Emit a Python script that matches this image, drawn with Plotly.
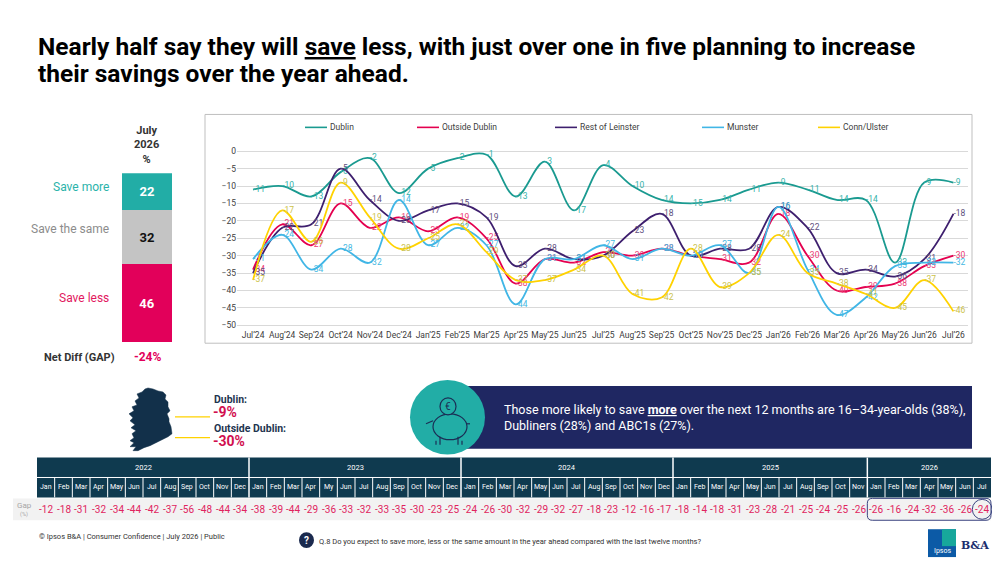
import plotly.graph_objects as go

# ---------------- DATA ----------------
months = ["Jul’24", "Aug’24", "Sep’24", "Oct’24", "Nov’24", "Dec’24", "Jan’25", "Feb’25",
          "Mar’25", "Apr’25", "May’25", "Jun’25", "Jul’25", "Aug’25", "Sep’25", "Oct’25",
          "Nov’25", "Dec’25", "Jan’26", "Feb’26", "Mar’26", "Apr’26", "May’26", "Jun’26", "Jul’26"]

dublin = [-11, -10, -13, -6, -2, -12, -5, -2, -1, -13, -3, -17, -4, -10, -14, -15, -14, -11,
          -9, -11, -14, -14, -32, -9, -9]
outside_dublin = [-34, -21, -27, -15, -22, -19, -23, -19, -25, -38, -31, -32, -29, -30, -28, -30,
                  -31, -32, -18, -30, -40, -39, -38, -33, -30]
rest_of_leinster = [-35, -22, -21, -5, -14, -20, -17, -15, -19, -33, -28, -31, -30, -23, -18, -30,
                    -28, -28, -16, -22, -35, -34, -36, -31, -18]
munster = [-31, -24, -34, -28, -32, -14, -27, -22, -27, -44, -31, -31, -27, -31, -28, -30, -27,
           -35, -16, -34, -47, -42, -33, -32, -32]
conn_ulster = [-37, -17, -26, -9, -19, -28, -25, -21, -29, -37, -37, -34, -30, -41, -42, -28, -39,
               -35, -24, -35, -38, -41, -45, -37, -46]

bar_categories = ["Save less", "Save the same", "Save more"]
bar_values = [46, 32, 22]
net_gap_text = "-24%"

region_gap_labels = ["Dublin:", "Outside Dublin:"]
region_gap_values = ["-9%", "-30%"]

table_years = ["2022", "2023", "2024", "2025", "2026"]
months_2022 = ["Jan", "Feb", "Mar", "Apr", "May", "Jun", "Jul", "Aug", "Sep", "Oct", "Nov", "Dec"]
months_2023 = ["Jan", "Feb", "Mar", "Apr", "My", "Jun", "Jul", "Aug", "Sep", "Oct", "Nov", "Dec"]
months_2024 = ["Jan", "Feb", "Mar", "Apr", "May", "Jun", "Jul", "Aug", "Sep", "Oct", "Nov", "Dec"]
months_2025 = ["Jan", "Feb", "Mar", "Apr", "May", "Jun", "Jul", "Aug", "Sep", "Oct", "Nov"]
months_2026 = ["Jan", "Feb", "Mar", "Apr", "May", "Jun", "Jul"]
gap_2022 = [-12, -18, -31, -32, -34, -44, -42, -37, -56, -48, -44, -34]
gap_2023 = [-38, -39, -44, -29, -36, -33, -32, -33, -35, -30, -23, -25]
gap_2024 = [-24, -26, -30, -32, -29, -32, -27, -18, -23, -12, -16, -17]
gap_2025 = [-18, -14, -18, -31, -23, -28, -21, -25, -24, -25, -26]
gap_2026 = [-26, -16, -24, -32, -36, -26, -24]

# ---------------- HELPERS ----------------
W, H = 1000, 563
OFF = 8  # page body margin
FONT = "Roboto"


def px(x):
    return (x - OFF) / W


def py(y):
    return 1 - (y - OFF) / H


NAVY_T = "#0F3A4F"
BOX_NAVY = "#1F2762"
TEAL = "#22ADA6"
PINK = "#E2005A"
GREY = "#C4C4C4"

fig = go.Figure()
shapes = []
ann = []

# ---------------- LINE CHART ----------------
series = [
    ("Dublin", dublin, "#1A9A90", "#36B3AA"),
    ("Outside Dublin", outside_dublin, "#E4004F", "#EC3B74"),
    ("Rest of Leinster", rest_of_leinster, "#3E1F6E", "#5E4F7E"),
    ("Munster", munster, "#41B6E6", "#45B8E2"),
    ("Conn/Ulster", conn_ulster, "#FFD200", "#CBC24A"),
]
for name, vals, col, lcol in series:
    fig.add_trace(go.Scatter(
        x=months, y=vals, mode="lines+text", name=name,
        text=[str(v) for v in vals], textposition="middle right",
        textfont=dict(size=8.5, color=lcol, family=FONT),
        line=dict(color=col, width=1.8, shape="spline", smoothing=1.0),
        cliponaxis=False, showlegend=False, hoverinfo="skip",
        xaxis="x", yaxis="y"))

# custom legend
legend_x = [305, 417, 555, 702, 818]
for (name, vals, col, lcol), lx in zip(series, legend_x):
    shapes.append(dict(type="line", xref="paper", yref="paper", x0=px(lx), x1=px(lx + 22),
                       y0=py(126), y1=py(126), line=dict(color=col, width=1.6)))
    ann.append(dict(x=px(lx + 23), y=py(126), xref="paper", yref="paper", text=name,
                    showarrow=False, xanchor="left", yanchor="middle",
                    font=dict(size=8.5, color="#404040", family=FONT)))

# chart frame
shapes.append(dict(type="rect", xref="paper", yref="paper", x0=px(205), x1=px(972),
                   y0=py(343), y1=py(113), line=dict(color="#BFBFBF", width=1), layer="below"))

# ---------------- STACKED BAR ----------------
bar_colors = [PINK, GREY, TEAL]
bar_text_colors = ["white", "#111111", "white"]
for cat, v, c, tc in zip(bar_categories, bar_values, bar_colors, bar_text_colors):
    fig.add_trace(go.Bar(
        x=["July 2026"], y=[v], name=cat, marker=dict(color=c, line=dict(width=0)),
        text=[f"<b>{v}</b>"], textposition="inside", insidetextanchor="middle",
        textfont=dict(size=13, color=tc, family=FONT), showlegend=False,
        hoverinfo="skip", xaxis="x2", yaxis="y2"))

label_colors = {"Save more": "#2BB3AA", "Save the same": "#8C8C8C", "Save less": "#E2185E"}
label_y = {"Save more": 186, "Save the same": 228, "Save less": 298}
for cat in ["Save more", "Save the same", "Save less"]:
    ann.append(dict(x=px(111), y=py(label_y[cat]), xref="paper", yref="paper", text=cat,
                    showarrow=False, xanchor="right", yanchor="middle",
                    font=dict(size=12, color=label_colors[cat], family=FONT)))

ann.append(dict(x=px(146), y=py(121), xref="paper", yref="paper",
                text="<b>July<br>2026<br>%</b>", showarrow=False, xanchor="center",
                yanchor="top", align="center",
                font=dict(size=11, color="#333333", family=FONT)))
ann.append(dict(x=px(117), y=py(357), xref="paper", yref="paper", text="<b>Net Diff (GAP)</b>",
                showarrow=False, xanchor="right", yanchor="middle",
                font=dict(size=11, color="#333333", family=FONT)))
ann.append(dict(x=px(147), y=py(357), xref="paper", yref="paper", text=f"<b>{net_gap_text}</b>",
                showarrow=False, xanchor="center", yanchor="middle",
                font=dict(size=12, color=PINK, family=FONT)))

# ---------------- MAP + REGION GAP ----------------
ireland = [(148, 388), (153, 389), (158, 391), (163, 392), (166, 395), (165, 399), (168, 402),
           (168, 407), (170, 411), (167, 414), (169, 419), (169, 422), (171, 427), (172, 434),
           (168, 437), (162, 440), (156, 443), (150, 446), (144, 448), (138, 451), (133, 451),
           (136, 447), (130, 447), (134, 443), (130, 441), (134, 438), (132, 434), (136, 431),
           (131, 428), (135, 425), (130, 421), (133, 418), (129, 414), (134, 411), (132, 407),
           (137, 405), (135, 401), (139, 398), (137, 394), (142, 392), (145, 389)]
path = "M " + " L ".join(f"{px(x):.5f},{py(y):.5f}" for x, y in ireland) + " Z"
shapes.append(dict(type="path", xref="paper", yref="paper", path=path,
                   fillcolor="#12304A", line=dict(color="#12304A", width=0.5)))
for yl in [417, 438]:
    shapes.append(dict(type="line", xref="paper", yref="paper", x0=px(175), x1=px(210),
                       y0=py(yl), y1=py(yl), line=dict(color="#FFD200", width=1.2)))
for lab, val, yl in zip(region_gap_labels, region_gap_values, [400, 429]):
    ann.append(dict(x=px(212), y=py(yl), xref="paper", yref="paper", text=f"<b>{lab}</b>",
                    showarrow=False, xanchor="left", yanchor="middle",
                    font=dict(size=10.5, color="#1E3550", family=FONT)))
    ann.append(dict(x=px(211), y=py(yl + 12), xref="paper", yref="paper", text=f"<b>{val}</b>",
                    showarrow=False, xanchor="left", yanchor="middle",
                    font=dict(size=14, color="#D10F4F", family=FONT)))

# ---------------- CALLOUT BOX ----------------
shapes.append(dict(type="rect", xref="paper", yref="paper", x0=px(460), x1=px(972),
                   y0=py(449), y1=py(386), fillcolor=BOX_NAVY, line=dict(width=0)))
shapes.append(dict(type="circle", xref="paper", yref="paper", x0=px(410), x1=px(485),
                   y0=py(455), y1=py(380), fillcolor=TEAL, line=dict(width=0)))
# piggy bank icon
icon = "#1B2E55"
shapes.append(dict(type="circle", xref="paper", yref="paper", x0=px(433), x1=px(467),
                   y0=py(440), y1=py(414), line=dict(color=icon, width=1.2)))
shapes.append(dict(type="circle", xref="paper", yref="paper", x0=px(440), x1=px(456),
                   y0=py(415), y1=py(398), fillcolor=TEAL, line=dict(color=icon, width=1.2)))
ann.append(dict(x=px(448), y=py(406.5), xref="paper", yref="paper", text="€", showarrow=False,
                xanchor="center", yanchor="middle", font=dict(size=10, color=icon, family=FONT)))
for x0, x1, y0, y1 in [(440, 440, 437, 445), (458, 458, 437, 445), (466, 470, 424, 424),
                       (426, 433, 424, 421), (436, 436, 441, 445), (462, 462, 441, 445)]:
    shapes.append(dict(type="line", xref="paper", yref="paper", x0=px(x0), x1=px(x1),
                       y0=py(y0), y1=py(y1), line=dict(color=icon, width=1.2)))
ann.append(dict(x=px(502), y=py(418), xref="paper", yref="paper",
                text="Those more likely to save <b><u>more</u></b> over the next 12 months are "
                     "16–34-year-olds (38%),<br>Dubliners (28%) and ABC1s (27%).",
                showarrow=False, xanchor="left", yanchor="middle", align="left",
                font=dict(size=12.5, color="white", family=FONT)))

# ---------------- GAP TABLE ----------------
TX0, TX1 = 37, 991
all_months = [months_2022, months_2023, months_2024, months_2025, months_2026]
all_gaps = [gap_2022, gap_2023, gap_2024, gap_2025, gap_2026]
ncols = sum(len(m) for m in all_months)
cw = (TX1 - TX0) / ncols
shapes.append(dict(type="rect", xref="paper", yref="paper", x0=px(13), x1=px(TX1),
                   y0=py(521), y1=py(499), fillcolor="#F2F2F2", line=dict(width=0)))
shapes.append(dict(type="rect", xref="paper", yref="paper", x0=px(TX0), x1=px(TX1),
                   y0=py(498), y1=py(458), fillcolor=NAVY_T, line=dict(width=0)))
shapes.append(dict(type="line", xref="paper", yref="paper", x0=px(TX0), x1=px(TX1),
                   y0=py(478), y1=py(478), line=dict(color="white", width=1)))
col = 0
for yi, (yr, mlist, glist) in enumerate(zip(table_years, all_months, all_gaps)):
    xs = TX0 + col * cw
    xe = xs + len(mlist) * cw
    if yi > 0:
        shapes.append(dict(type="line", xref="paper", yref="paper", x0=px(xs), x1=px(xs),
                           y0=py(458), y1=py(498), line=dict(color="white", width=1.5)))
    ann.append(dict(x=px((xs + xe) / 2), y=py(468), xref="paper", yref="paper", text=yr,
                    showarrow=False, xanchor="center", yanchor="middle",
                    font=dict(size=7.5, color="white", family=FONT)))
    for j, (m, g) in enumerate(zip(mlist, glist)):
        cx = xs + j * cw
        if j > 0:
            shapes.append(dict(type="line", xref="paper", yref="paper", x0=px(cx), x1=px(cx),
                               y0=py(478), y1=py(498), line=dict(color="white", width=1)))
        ann.append(dict(x=px(cx + cw / 2), y=py(488), xref="paper", yref="paper", text=m,
                        showarrow=False, xanchor="center", yanchor="middle",
                        font=dict(size=7, color="white", family=FONT)))
        ann.append(dict(x=px(cx + cw / 2), y=py(510), xref="paper", yref="paper", text=str(g),
                        showarrow=False, xanchor="center", yanchor="middle",
                        font=dict(size=10, color="#E0245E", family=FONT)))
    col += len(mlist)

ann.append(dict(x=px(24), y=py(506), xref="paper", yref="paper", text="Gap", showarrow=False,
                xanchor="center", yanchor="middle", font=dict(size=8, color="#A6A6A6", family=FONT)))
ann.append(dict(x=px(24), y=py(515), xref="paper", yref="paper", text="(%)", showarrow=False,
                xanchor="center", yanchor="middle", font=dict(size=5.5, color="#A6A6A6", family=FONT)))

# highlight of 2026 values
rx0 = TX0 + (ncols - len(months_2026)) * cw
rx1, ry0, ry1, r = TX1, 499, 521, 5


def rrect(x0, y0, x1, y1, r):
    a, b = r / W, r / H
    X0, X1, Y0, Y1 = px(x0), px(x1), py(y1), py(y0)
    return (f"M {X0 + a},{Y1} L {X1 - a},{Y1} Q {X1},{Y1} {X1},{Y1 - b} L {X1},{Y0 + b} "
            f"Q {X1},{Y0} {X1 - a},{Y0} L {X0 + a},{Y0} Q {X0},{Y0} {X0},{Y0 + b} "
            f"L {X0},{Y1 - b} Q {X0},{Y1} {X0 + a},{Y1} Z")


shapes.append(dict(type="path", xref="paper", yref="paper", path=rrect(rx0, ry0, rx1, ry1, r),
                   line=dict(color="#3B4480", width=1)))
shapes.append(dict(type="circle", xref="paper", yref="paper", x0=px(TX1 - cw - 1), x1=px(TX1 + 1),
                   y0=py(520), y1=py(500), line=dict(color="#3B4480", width=1)))

# ---------------- TITLE & FOOTER ----------------
title_lines = ["Nearly half say they will <u>save</u> less, with just over one in five planning to increase",
               "their savings over the year ahead."]
for tl, ty in zip(title_lines, [45, 72]):
    ann.append(dict(x=px(36), y=py(ty), xref="paper", yref="paper", text=f"<b>{tl}</b>",
                    showarrow=False, xanchor="left", yanchor="middle", align="left",
                    font=dict(size=24.5, color="#000000", family=FONT)))
ann.append(dict(x=px(37), y=py(537), xref="paper", yref="paper",
                text="© Ipsos B&A | Consumer Confidence | July 2026 | Public", showarrow=False,
                xanchor="left", yanchor="middle", font=dict(size=7.5, color="#333333", family=FONT)))
shapes.append(dict(type="circle", xref="paper", yref="paper", x0=px(299), x1=px(314),
                   y0=py(549), y1=py(533), fillcolor="#1B2A4E", line=dict(width=0)))
ann.append(dict(x=px(306.5), y=py(541), xref="paper", yref="paper", text="<b>?</b>", showarrow=False,
                xanchor="center", yanchor="middle", font=dict(size=10, color="white", family=FONT)))
ann.append(dict(x=px(317), y=py(542), xref="paper", yref="paper",
                text="Q.8 Do you expect to save more, less or the same amount in the year ahead compared with the last twelve months?",
                showarrow=False, xanchor="left", yanchor="middle",
                font=dict(size=7.5, color="#333333", family=FONT)))
# logo
shapes.append(dict(type="rect", xref="paper", yref="paper", x0=px(928), x1=px(956),
                   y0=py(558), y1=py(530), fillcolor="#0C5AA6", line=dict(width=0)))
shapes.append(dict(type="rect", xref="paper", yref="paper", x0=px(942), x1=px(956),
                   y0=py(547), y1=py(530), fillcolor="#17A79B", line=dict(width=0)))
ann.append(dict(x=px(942), y=py(552), xref="paper", yref="paper", text="Ipsos", showarrow=False,
                xanchor="center", yanchor="middle", font=dict(size=7, color="white", family=FONT)))
ann.append(dict(x=px(959), y=py(546), xref="paper", yref="paper", text="<b>B&A</b>", showarrow=False,
                xanchor="left", yanchor="middle",
                font=dict(size=11, color="#1B2E6E", family="DejaVu Serif")))

# ---------------- LAYOUT ----------------
yr0, yr1 = -51, 1
ppu = 3.5
top_px = 150 - yr1 * ppu
bot_px = 150 - yr0 * ppu
fig.update_layout(
    width=W, height=H, margin=dict(l=0, r=0, t=0, b=0),
    paper_bgcolor="white", plot_bgcolor="rgba(0,0,0,0)",
    font=dict(family=FONT),
    barmode="stack", bargap=0,
    xaxis=dict(domain=[px(237), px(968)], type="category", range=[-0.55, 24.5],
               tickmode="array", tickvals=months, ticktext=months, tickangle=0,
               tickfont=dict(size=8.5, color="#404040", family=FONT),
               showgrid=False, zeroline=False, showline=False, ticks=""),
    yaxis=dict(domain=[py(bot_px), py(top_px)], range=[yr0, yr1],
               tickvals=list(range(0, -55, -5)),
               tickfont=dict(size=8.5, color="#404040", family=FONT),
               gridcolor="#D9D9D9", gridwidth=1, zeroline=False, showline=False, ticks=""),
    xaxis2=dict(domain=[px(122), px(172)], anchor="y2", visible=False, range=[-0.5, 0.5]),
    yaxis2=dict(domain=[py(342), py(172)], anchor="x2", visible=False, range=[0, 100]),
    shapes=shapes, annotations=ann,
)

fig.write_html("out.html")
